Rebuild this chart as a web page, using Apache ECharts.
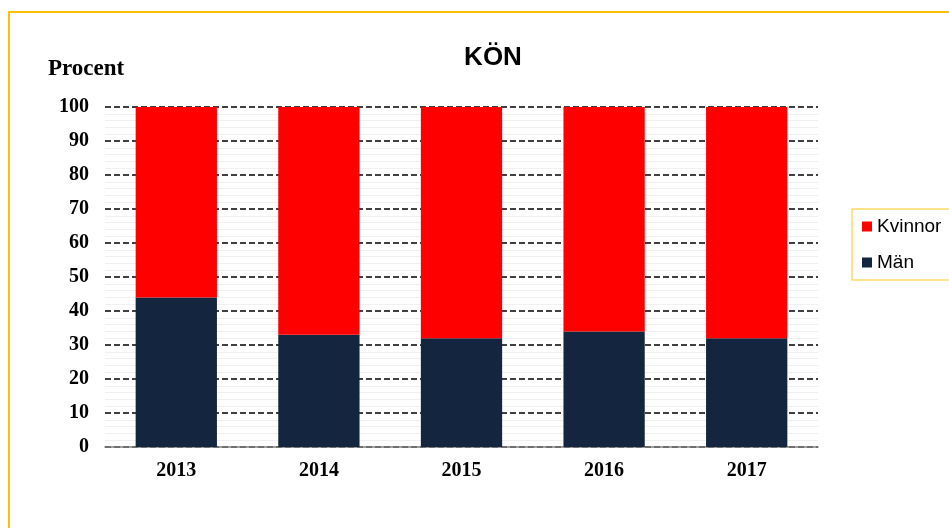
<!DOCTYPE html>
<html lang="sv">
<head>
    <meta charset="UTF-8">
    <title>KÖN</title>
    <script src="https://cdn.jsdelivr.net/npm/echarts@6/dist/echarts.min.js"></script>
</head>
<body style="margin:0;">
<div id="chart-container" style="width: 949px;height: 528px;"></div>
<script type="text/javascript">
    // data
    var years = ['2013', '2014', '2015', '2016', '2017'];
    var man = [44, 33, 32, 34, 32];
    var kvinnor = [56, 67, 68, 66, 68];

    var myChart = echarts.init(document.getElementById('chart-container'));
    var serif = '"Liberation Serif", "DejaVu Serif", serif';
    var sans = '"Liberation Sans", Arial, sans-serif';

    var option = {
        animation: false,
        backgroundColor: '#ffffff',
        title: {
            text: 'KÖN',
            left: 488,
            top: 40,
            textAlign: 'center',
            textStyle: {fontFamily: sans, fontWeight: 'bold', fontSize: 26, color: '#000'}
        },
        graphic: [
            {
                type: 'rect',
                shape: {x: 9, y: 12, width: 1000, height: 1000},
                style: {fill: 'none', stroke: '#FFC000', lineWidth: 2},
                silent: true
            },
            {
                type: 'text',
                x: 48,
                y: 69,
                style: {
                    text: 'Procent', font: 'bold 23px ' + serif, fill: '#000',
                    verticalAlign: 'middle'
                }
            }
        ],
        legend: {
            orient: 'vertical',
            left: 852,
            top: 209,
            data: ['Kvinnor', 'Män'],
            icon: 'rect',
            itemWidth: 10,
            itemHeight: 10,
            itemGap: 17,
            padding: [8, 40, 8, 10],
            borderColor: '#FFD966',
            borderWidth: 1.5,
            textStyle: {fontFamily: sans, fontSize: 19, color: '#000'}
        },
        grid: {left: 105, right: 131, top: 107, bottom: 81},
        xAxis: {
            type: 'category',
            data: years,
            axisLine: {lineStyle: {color: '#808080', width: 1.5}},
            axisTick: {alignWithLabel: true, length: 6, lineStyle: {color: '#808080'}},
            axisLabel: {fontFamily: serif, fontWeight: 'bold', fontSize: 20, color: '#000', margin: 14}
        },
        yAxis: {
            type: 'value',
            min: 0,
            max: 100,
            interval: 10,
            axisLine: {show: false},
            axisTick: {show: false},
            axisLabel: {fontFamily: serif, fontWeight: 'bold', fontSize: 20, color: '#000', margin: 16},
            splitLine: {lineStyle: {color: '#404040', type: [6, 3], width: 2}},
            minorTick: {show: false, splitNumber: 5},
            minorSplitLine: {show: true, lineStyle: {color: '#f0f0f0', width: 1}}
        },
        series: [
            {
                name: 'Män',
                type: 'bar',
                stack: 'total',
                data: man,
                barWidth: '57%',
                itemStyle: {color: '#13253F'}
            },
            {
                name: 'Kvinnor',
                type: 'bar',
                stack: 'total',
                data: kvinnor,
                barWidth: '57%',
                itemStyle: {color: '#FF0000'}
            }
        ]
    };

    myChart.setOption(option);
</script>
</body>
</html>
